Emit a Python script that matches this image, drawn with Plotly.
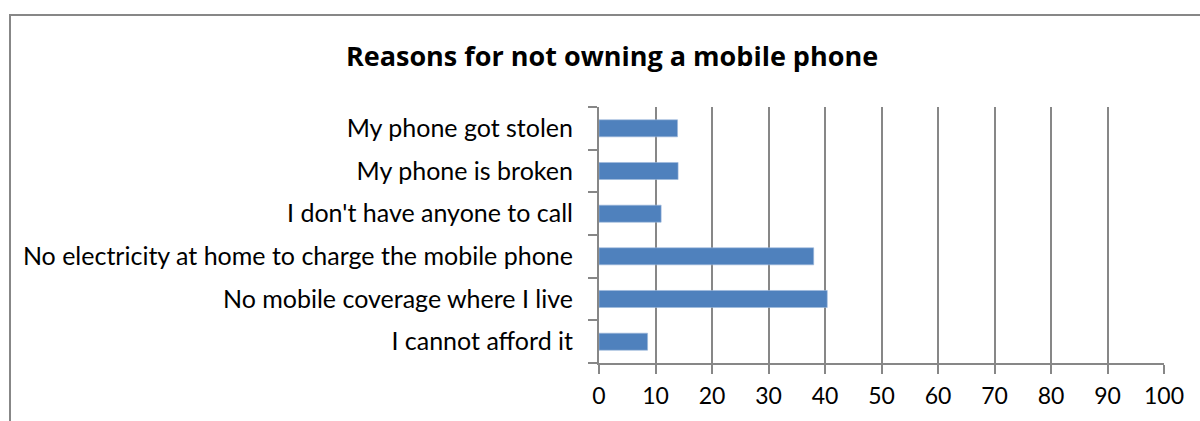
import plotly.graph_objects as go

# Survey responses: share of respondents giving each reason (%)
reasons = [
    "I cannot afford it",
    "No mobile coverage where I live",
    "No electricity at home to charge the mobile phone",
    "I don't have anyone to call",
    "My phone is broken",
    "My phone got stolen",
]
shares = [8.6, 40.4, 38, 11, 14, 13.9]
x_ticks = [0, 10, 20, 30, 40, 50, 60, 70, 80, 90, 100]

BAR_BLUE = "#4F81BD"
GRID_GREY = "#878787"
FONT = "Lato"

fig = go.Figure(
    go.Bar(
        x=shares,
        y=reasons,
        orientation="h",
        marker=dict(color=BAR_BLUE, line=dict(color="#9DB8DB", width=0.6)),
        hoverinfo="x+y",
    )
)

L, R, T, B = 599, 36, 107, 58
W, H = 1200, 421
pw = W - L - R
ph = H - T - B

def px_to_paper_x(px):
    return (px - L) / pw

def px_to_paper_y(py):
    return (H - B - py) / ph

fig.update_layout(
    width=W,
    height=H,
    margin=dict(l=L, r=R, t=T, b=B, pad=0, autoexpand=False),
    paper_bgcolor="white",
    plot_bgcolor="white",
    showlegend=False,
    bargap=0.6,
    font=dict(family=FONT, size=25, color="#000000"),
    title=dict(
        text="<b>Reasons for not owning a mobile phone</b>",
        x=px_to_paper_x(612), xref="paper", xanchor="center",
        y=1 - 57 / H, yanchor="middle",
        font=dict(family="Open Sans", size=27, color="#000000"),
    ),
    xaxis=dict(
        range=[0, 100],
        tickvals=x_ticks,
        showgrid=True,
        gridcolor=GRID_GREY,
        gridwidth=2,
        showline=True,
        linecolor=GRID_GREY,
        linewidth=2,
        ticks="outside",
        ticklen=9,
        tickwidth=2,
        tickcolor=GRID_GREY,
        ticklabelstandoff=2,
        zeroline=False,
        automargin=False,
        fixedrange=True,
        tickfont=dict(family=FONT, size=23),
    ),
    yaxis=dict(
        type="category",
        showgrid=False,
        showline=True,
        linecolor=GRID_GREY,
        linewidth=2,
        ticks="outside",
        tickson="boundaries",
        ticklen=9,
        tickwidth=2,
        tickcolor=GRID_GREY,
        ticklabelstandoff=19,
        automargin=False,
        fixedrange=True,
        tickfont=dict(family=FONT, size=25),
    ),
    shapes=[
        # outer chart frame (open at right/bottom edges of the page)
        dict(
            type="rect", xref="paper", yref="paper",
            x0=px_to_paper_x(10), x1=px_to_paper_x(1230),
            y0=px_to_paper_y(450), y1=px_to_paper_y(15),
            line=dict(color=GRID_GREY, width=2),
            fillcolor="rgba(0,0,0,0)",
            layer="below",
        )
    ],
)

fig.write_html("out.html")
